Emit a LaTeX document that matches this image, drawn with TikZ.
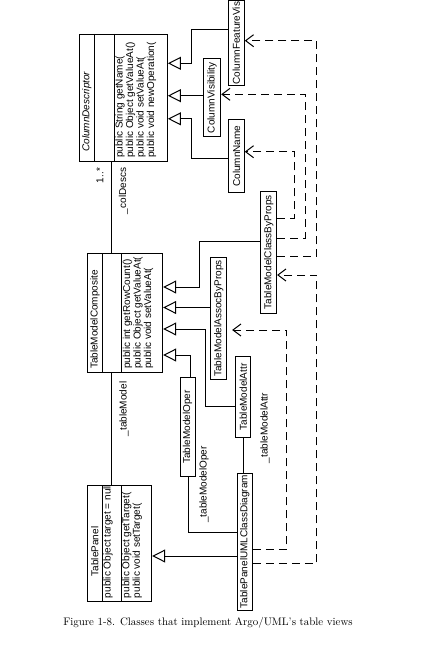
\documentclass[tikz,border=0pt]{standalone}
\usepackage{fontspec}
\usepackage{tikz}
\usetikzlibrary{arrows.meta}
\newfontfamily\umlfam{Liberation Sans}

\tikzset{
  cls/.style={draw, line width=1pt, inner sep=0pt},
  box/.style={draw, line width=1pt, inner sep=1pt, font=\umlfam\fontsize{10}{10.5}\selectfont},
  txt/.style={rotate=90, inner sep=0pt, font=\umlfam\fontsize{10}{10.5}\selectfont},
  ops/.style={rotate=90, anchor=north west, align=left, inner xsep=4pt, inner ysep=1pt,
    font=\umlfam\fontsize{10}{10.5}\selectfont},
  gen/.style={line width=1pt, -{Triangle[open, length=13pt, width=13pt]}},
  dep/.style={line width=1pt, dash pattern=on 8pt off 5pt, -{Straight Barb[length=8pt, width=12pt]}},
  assoc/.style={line width=1pt}
}

\begin{document}
\begin{tikzpicture}[x=1pt, y=-1pt]
\useasboundingbox (0,0) rectangle (433,650);

% classes with compartments
\node[cls, minimum width=88pt, minimum height=127pt] (cd) at (123.4,97.9) {};
\draw[assoc] (cd.north -| 94.3,0) -- (cd.south -| 94.3,0);
\draw[assoc] (cd.north -| 114.3,0) -- (cd.south -| 114.3,0);
\node[txt] (cdname) at (86.8,111.7) {\itshape ColumnDescriptor};
\node[ops] (cdops) at (cd.south -| 114.3,0) {public String getName(\\public Object getValueAt()\\public void setValueAt(\\public void newOperation(};

\node[cls, minimum width=75.4pt, minimum height=119pt] (tmc) at (125,313) {};
\draw[assoc] (tmc.north -| 102.7,0) -- (tmc.south -| 102.7,0);
\draw[assoc] (tmc.north -| 121.7,0) -- (tmc.south -| 121.7,0);
\node[txt] (tmcname) at (95,319.5) {TableModelComposite};
\node[ops] (tmcops) at (tmc.south -| 121.7,0) {public int getRowCount()\\public Object getValueAt(\\public void setValueAt(};

\node[cls, minimum width=64.4pt, minimum height=116.2pt] (tp) at (119.5,543.6) {};
\draw[assoc] (tp.north -| 102.3,0) -- (tp.south -| 102.3,0);
\draw[assoc] (tp.north -| 121,0) -- (tp.south -| 121,0);
\node[txt] (tpname) at (94.8,551.5) {TablePanel};
\node[ops] (tpattr) at (tp.south -| 102.3,0) {public Object target = null};
\node[ops] (tpops) at (tp.south -| 121,0) {public Object getTarget(\\public void setTarget(};

% simple classes
\node[box, minimum width=16pt, minimum height=84pt] (cfv) at (236.3,43.1) {\rotatebox{90}{ColumnFeatureVis}};
\node[box, minimum width=17.4pt, minimum height=78pt] (cvis) at (212,97.9) {\rotatebox{90}{ColumnVisibility}};
\node[box, minimum width=15.3pt, minimum height=73.5pt] (cname) at (236.6,156.2) {\rotatebox{90}{ColumnName}};
\node[box, minimum width=15.7pt, minimum height=122pt] (tmcbp) at (268.8,252.3) {\rotatebox{90}{TableModelClassByProps}};
\node[box, minimum width=15.7pt, minimum height=122.4pt] (tmabp) at (218.8,318.5) {\rotatebox{90}{TableModelAssocByProps}};
\node[box, minimum width=14.7pt, minimum height=81.8pt] (tmattr) at (243.3,396.9) {\rotatebox{90}{TableModelAttr}};
\node[box, minimum width=15pt, minimum height=98.7pt] (tmoper) at (187.5,427) {\rotatebox{90}{TableModelOper}};
\node[box, minimum width=15pt, minimum height=137pt] (tpucd) at (244.8,541.5) {\rotatebox{90}{TablePanelUMLClassDiagram}};

% associations
\draw[assoc] (cd.south -| 111,0) -- (tmc.north -| 111,0);
\node[txt] (mult) at (100,175.5) {1..*};
\node[txt] (colDescs) at (123.5,191) {\_colDescs};
\draw[assoc] (tmc.south -| 111,0) -- (tp.north -| 111,0);
\node[txt] (tableModel) at (124,409) {\_tableModel};
\draw[assoc] (tmoper.south -| 188.3,0) |- (tpucd.west |- 0,532.3);
\node[txt] (tableModelOper) at (204,484.5) {\_tableModelOper};
\draw[assoc] (tmattr.south -| 243.3,0) -- (tpucd.north -| 243.3,0);
\node[txt] (tableModelAttr) at (265,428) {\_tableModelAttr};

% generalizations
\draw[gen] (cfv.west |- 0,30) -| (191.7,63.3) -- (cd.east |- 0,63.3);
\draw[gen] (cvis.west |- 0,95.7) -- (cd.east |- 0,95.7);
\draw[gen] (cname.west |- 0,158.3) -| (191.7,118.8) -- (cd.east |- 0,118.8);
\draw[gen] (tmcbp.west |- 0,241.7) -| (199.3,287) -- (tmc.east |- 0,287);
\draw[gen] (tmabp.west |- 0,307.5) -- (tmc.east |- 0,307.5);
\draw[gen] (tmattr.west |- 0,406.5) -| (205,329) -- (tmc.east |- 0,329);
\draw[gen] (tmoper.north -| 190.7,0) |- (tmc.east |- 0,355);
\draw[gen] (tpucd.west |- 0,556) -- (tp.east |- 0,556);

% dependencies
\draw[dep] (tmcbp.east |- 0,218.3) -| (294.3,151.7) -- (cname.east |- 0,151.7);
\draw[dep] (tmcbp.east |- 0,238.3) -| (305,94.3) -- (cvis.east |- 0,94.3);
\draw[dep] (tmcbp.east |- 0,256.7) -| (316.7,40.7) -- (cfv.east |- 0,40.7);
\draw[dep] (tpucd.east |- 0,563.5) -| (316.7,275) -- (tmcbp.east |- 0,275);
\draw[dep, shorten >=5pt] (tpucd.east |- 0,549.5) -| (286.7,330) -- (tmabp.east |- 0,330);

% caption
\node[font=\fontsize{10.9}{13}\selectfont] (caption) at (208,623) {Figure 1-8. Classes that implement Argo/UML's table views};
\end{tikzpicture}
\end{document}
